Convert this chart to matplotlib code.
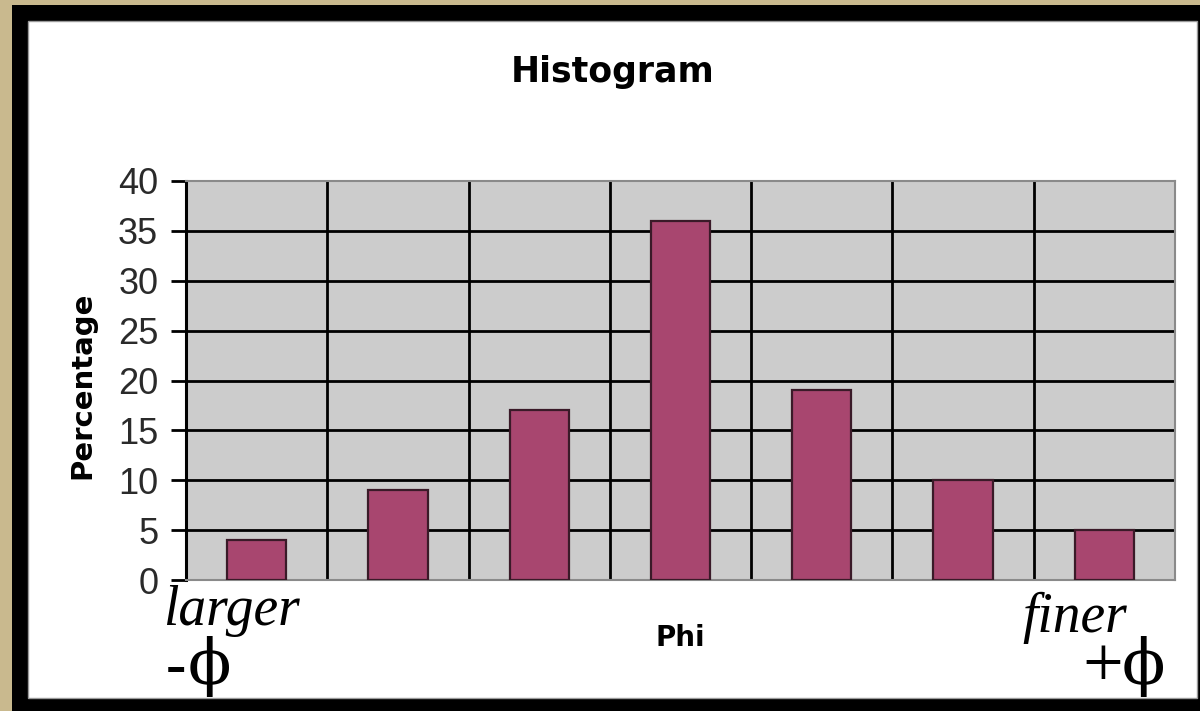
import matplotlib
matplotlib.use("Agg")
import matplotlib.pyplot as plt
from matplotlib.patches import Rectangle

# ---- data ----
categories = ["1", "2", "3", "4", "5", "6", "7"]
percentages = [4, 9, 17, 36, 19, 10, 5]
y_ticks = [0, 5, 10, 15, 20, 25, 30, 35, 40]
title = "Histogram"
x_label = "Phi"
y_label = "Percentage"

W, H = 1200, 711
fig = plt.figure(figsize=(W / 100, H / 100), dpi=100)
fig.patch.set_facecolor("#c9b98e")

def px(x0, y0, x1, y1):
    return (x0 / W, 1 - y1 / H, (x1 - x0) / W, (y1 - y0) / H)

# black frame and white panel
l, b, w, h = px(12, 5, 1200, 711)
fig.patches.append(Rectangle((l, b), w, h, transform=fig.transFigure,
                             facecolor="black", edgecolor="none", zorder=-3))
l, b, w, h = px(28, 21, 1197, 698)
fig.patches.append(Rectangle((l, b), w, h, transform=fig.transFigure,
                             facecolor="white", edgecolor="#9a9a9a", lw=1, zorder=-2))

ax = fig.add_axes(px(186, 181, 1175, 580))
ax.set_facecolor("#cccccc")
xs = list(range(len(categories)))
ax.bar(xs, percentages, width=0.42, color="#a8466f", edgecolor="#3a1a28",
       linewidth=1.6, zorder=3)

ax.set_xlim(-0.5, len(categories) - 0.5)
ax.set_ylim(y_ticks[0], y_ticks[-1])
ax.yaxis.remove_overlapping_locs = False
ax.set_yticks(y_ticks)
ax.set_yticks(y_ticks[1:-1], minor=True)
ax.set_xticks([])
ax.set_xticks([i + 0.5 for i in xs[:-1]], minor=True)
ax.grid(False)
ax.grid(True, which="minor", axis="both", color="black", linewidth=2, zorder=1)
ax.set_axisbelow(True)
ax.tick_params(axis="y", which="major", direction="out", length=11, width=2,
               color="black", pad=9, labelsize=26, labelcolor="#2a2a2a")
ax.tick_params(axis="both", which="minor", length=0)
for lab in ax.get_yticklabels():
    lab.set_fontfamily(["Liberation Sans Narrow", "Liberation Sans", "DejaVu Sans"])
for s in ["top", "right", "bottom"]:
    ax.spines[s].set_color("#8a8a8a")
    ax.spines[s].set_linewidth(1.5)
ax.spines["left"].set_color("black")
ax.spines["left"].set_linewidth(2.2)

sans = ["DejaVu Sans"]
fig.text(613 / W, 1 - 72 / H, title, ha="center", va="center",
         fontsize=25, fontweight="bold", family=sans)
fig.text(82 / W, 1 - 385 / H, y_label, ha="center", va="center", rotation=90,
         fontsize=21, fontweight="bold", family=sans)
fig.text(680 / W, 1 - 638 / H, x_label, ha="center", va="center",
         fontsize=20, fontweight="bold", family=sans)

serif = ["Liberation Serif", "DejaVu Serif"]
phi_font = ["DejaVu Serif"]
fig.text(163 / W, 1 - 625 / H, "larger", ha="left", va="baseline",
         fontsize=40, style="italic", family=serif)
fig.text(166 / W, 1 - 684 / H, "-", ha="left", va="baseline",
         fontsize=44, family=serif)
fig.text(188 / W, 1 - 684 / H, "\u03d5", ha="left", va="baseline",
         fontsize=46, family=phi_font)
fig.text(1022 / W, 1 - 632 / H, "finer", ha="left", va="baseline",
         fontsize=40, style="italic", family=serif)
fig.text(1082 / W, 1 - 686 / H, "+", ha="left", va="baseline",
         fontsize=52, family=serif)
fig.text(1122 / W, 1 - 684 / H, "\u03d5", ha="left", va="baseline",
         fontsize=46, family=phi_font)

fig.savefig("out.png", dpi=100, facecolor=fig.get_facecolor())
